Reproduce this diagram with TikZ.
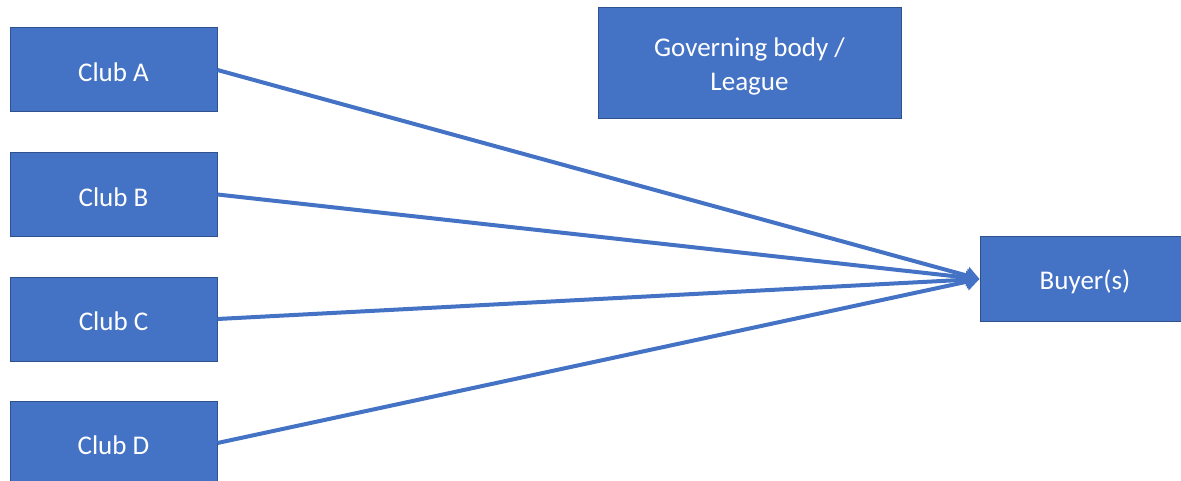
\documentclass[tikz,border=0pt]{standalone}
\usepackage{fontspec}
\setmainfont{Carlito}
\usetikzlibrary{arrows.meta}
\definecolor{boxblue}{HTML}{4472C4}
\definecolor{boxedge}{HTML}{2F528F}
\begin{document}
\begin{tikzpicture}[x=1pt,y=1pt,
  block/.style={rectangle, fill=boxblue, draw=boxedge, line width=1pt,
    inner sep=0pt},
  caption/.style={text=white, align=center, inner sep=0pt, yshift=-2.5pt,
    font=\fontsize{27}{34}\selectfont},
  club/.style={block, minimum width=207pt, minimum height=84pt},
  link/.style={draw=boxblue, line width=4pt,
    -{Triangle[length=13pt,width=17pt]}}]
\useasboundingbox (0,0) rectangle (1181,-481);
\fill[white] (0,0) rectangle (1181,-481);

\node[club, label={[caption]center:Club A}] (a) at (113.5,-70) {};
\node[club, label={[caption]center:Club B}] (b) at (113.5,-194.5) {};
\node[club, label={[caption]center:Club C}] (c) at (113.5,-319) {};
\node[club, label={[caption]center:Club D}] (d) at (113.5,-443) {};

\node[block, minimum width=303pt, minimum height=111pt,
  label={[caption]center:Governing body /\\League}] (gov) at (749.5,-63.5) {};

\node[block, minimum width=210pt, minimum height=84pt,
  label={[caption]center:Buyer(s)}] (buy) at (1085,-279) {};

\foreach \c in {a,b,c,d}
  \draw[link] (\c.east) -- (buy.west);
\end{tikzpicture}
\end{document}
